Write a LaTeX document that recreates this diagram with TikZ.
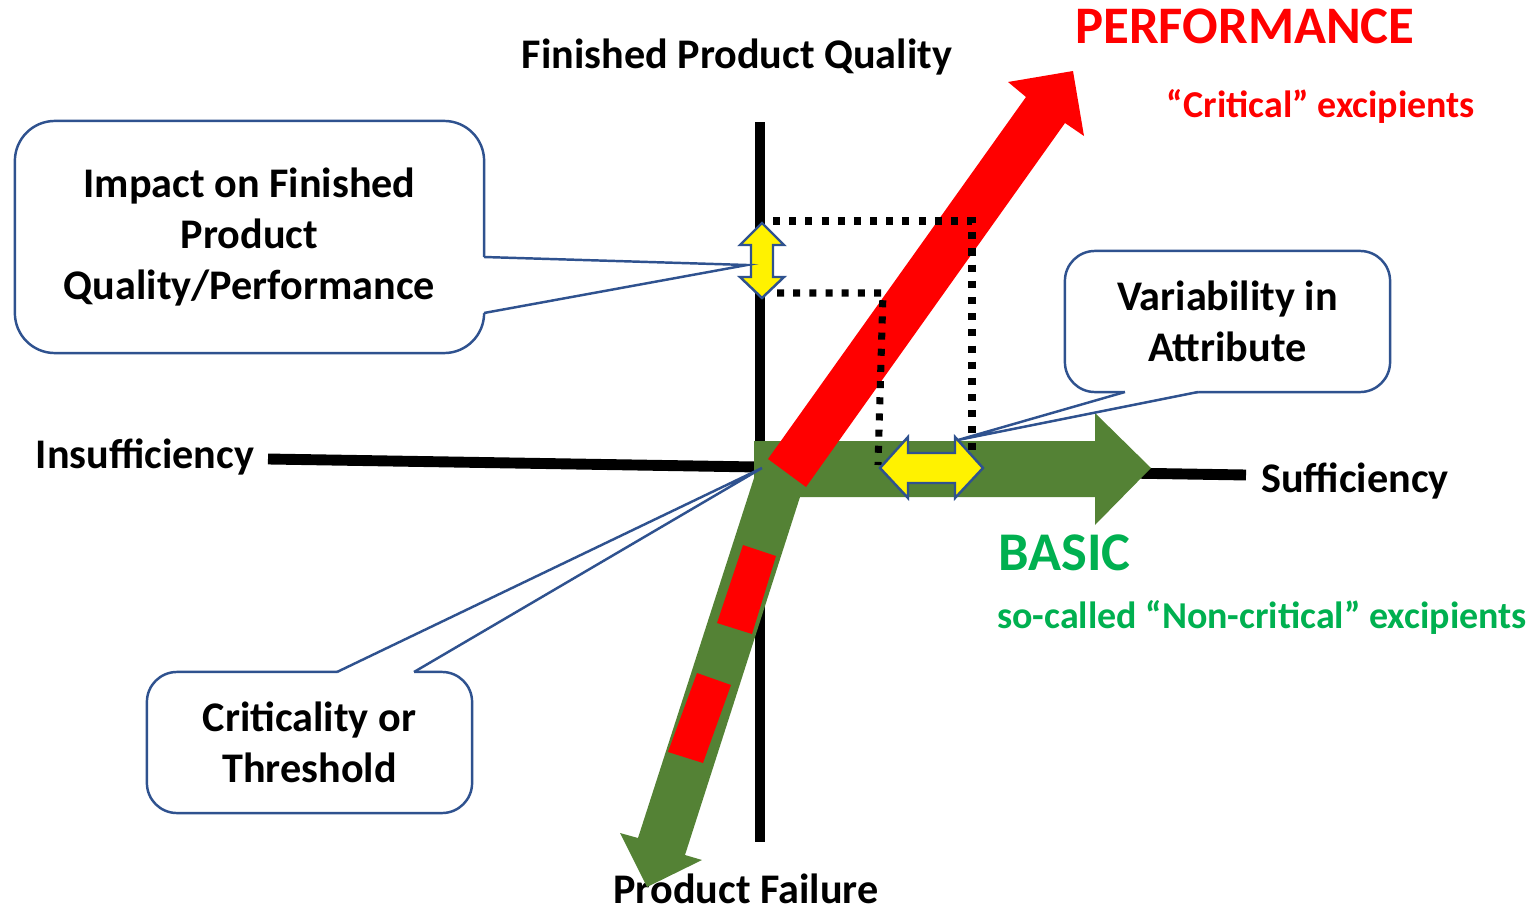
\documentclass[tikz,border=0pt]{standalone}
\usepackage{fontspec}
\setmainfont{Carlito}
\usetikzlibrary{arrows,shapes,positioning,calc}
\definecolor{calloutblue}{RGB}{47,82,143}
\definecolor{basicgreen}{RGB}{84,130,53}
\definecolor{textgreen}{RGB}{0,176,80}
\tikzstyle{callout}   = [rectangle, draw=calloutblue, line width=0.7pt, fill=white,
    text centered, align=center, inner sep=0pt, font=\bfseries\fontsize{12}{14.5}\selectfont]
\tikzstyle{pointer}   = [draw=calloutblue, line width=0.7pt, line join=miter]
\tikzstyle{axisline}  = [draw, line width=3.1pt]
\tikzstyle{axislabel} = [font=\bfseries\fontsize{12}{14.5}\selectfont]
\tikzstyle{dotline}   = [draw, line width=2pt, dash pattern=on 2pt off 2.6pt]
\tikzstyle{vararrow}  = [draw=calloutblue, fill=yellow, line width=0.7pt, line join=miter]

\begin{document}
\begin{tikzpicture}[x=0.01cm,y=-0.01cm]
    \useasboundingbox (0,0) rectangle (1535,912);

    % Axes
    \coordinate (qtop)   at (760,122);
    \coordinate (qbot)   at (760,842);
    \coordinate (sleft)  at (268,459);
    \coordinate (sright) at (1246,475);
    \path [axisline] (qtop) -- (qbot);
    \path [axisline] (sleft) -- (sright);

    % Axis labels
    \node [axislabel] (quality) at (737,57)  {Finished Product Quality};
    \node [axislabel] (insuff)  at (145,457) {Insufficiency};
    \node [axislabel] (suff)    at (1355,481) {Sufficiency};
    \node [axislabel, inner sep=0pt] (failure) at (746,889) {Product Failure};

    % Basic (green) arrow, bent down to product failure
    \fill [basicgreen] (754,441) -- (1095,441) -- (1095,413) -- (1151,468) -- (1095,525)
        -- (1095,497) -- (800,497) -- (685,855) -- (702,860) -- (647,887) -- (620,833)
        -- (638,838) -- (754,478) -- cycle;
    \fill [red] (743,545) -- (776,556) -- (752,634) -- (717,623) -- cycle;
    \fill [red] (697,673) -- (731,685) -- (703,763) -- (668,752) -- cycle;

    % Performance (red) arrow
    \fill [red] (768,459) -- (1026,97) -- (1008,82) -- (1073,71) -- (1084,136)
        -- (1065,123) -- (806,487) -- cycle;

    % Projections
    \path [dotline] (773,221) -- (972,221) -- (972,460);
    \path [dotline] (777,293) -- (883,293) -- (878,465);

    % Variability arrows
    \path [vararrow] (762,223) -- (784,245) -- (773,245) -- (773,277) -- (784,277)
        -- (762,298) -- (740,277) -- (751,277) -- (751,245) -- (740,245) -- cycle;
    \path [vararrow] (880,468) -- (908,437) -- (908,453) -- (955,453) -- (955,437)
        -- (983,468) -- (955,498) -- (955,483) -- (908,483) -- (908,498) -- cycle;

    % Performance / basic texts
    \node [text=red, font=\bfseries\fontsize{15}{18}\selectfont] (perf) at (1245,26) {PERFORMANCE};
    \node [text=red, font=\bfseries\fontsize{10.8}{13}\selectfont] (critical) at (1321,106) {“Critical” excipients};
    \node [text=textgreen, anchor=west, font=\bfseries\fontsize{15.5}{18}\selectfont] (basic) at (986,553) {BASIC};
    \node [text=textgreen, font=\bfseries\fontsize{10.8}{13}\selectfont] (noncrit) at (1262,617) {so-called “Non-critical” excipients};

    % Callouts
    \node [callout, rounded corners=0.4cm, minimum width=4.69cm, minimum height=2.32cm]
        (impact) at (249.5,237) {Impact on Finished\\Product\\Quality/Performance};
    \node [callout, rounded corners=0.3cm, minimum width=3.25cm, minimum height=1.41cm]
        (variab) at (1227.5,321.5) {Variability in\\Attribute};
    \node [callout, rounded corners=0.3cm, minimum width=3.25cm, minimum height=1.41cm]
        (critic) at (309.5,742.5) {Criticality or\\Threshold};

    \coordinate (impactTip) at (747,265);
    \coordinate (variabTip) at (958,440);
    \coordinate (criticTip) at (762,468);

    \fill [white] (484,257) -- (impactTip) -- (484,313) -- (480,313) -- (480,257) -- cycle;
    \path [pointer] (484,257) -- (impactTip) -- (484,313);
    \fill [white] (1125,392) -- (variabTip) -- (1198,392) -- (1198,388) -- (1125,388) -- cycle;
    \path [pointer] (1125,392) -- (variabTip) -- (1198,392);
    \fill [white] (337,672) -- (criticTip) -- (414,672) -- (414,676) -- (337,676) -- cycle;
    \path [pointer] (337,672) -- (criticTip) -- (414,672);
\end{tikzpicture}
\end{document}
